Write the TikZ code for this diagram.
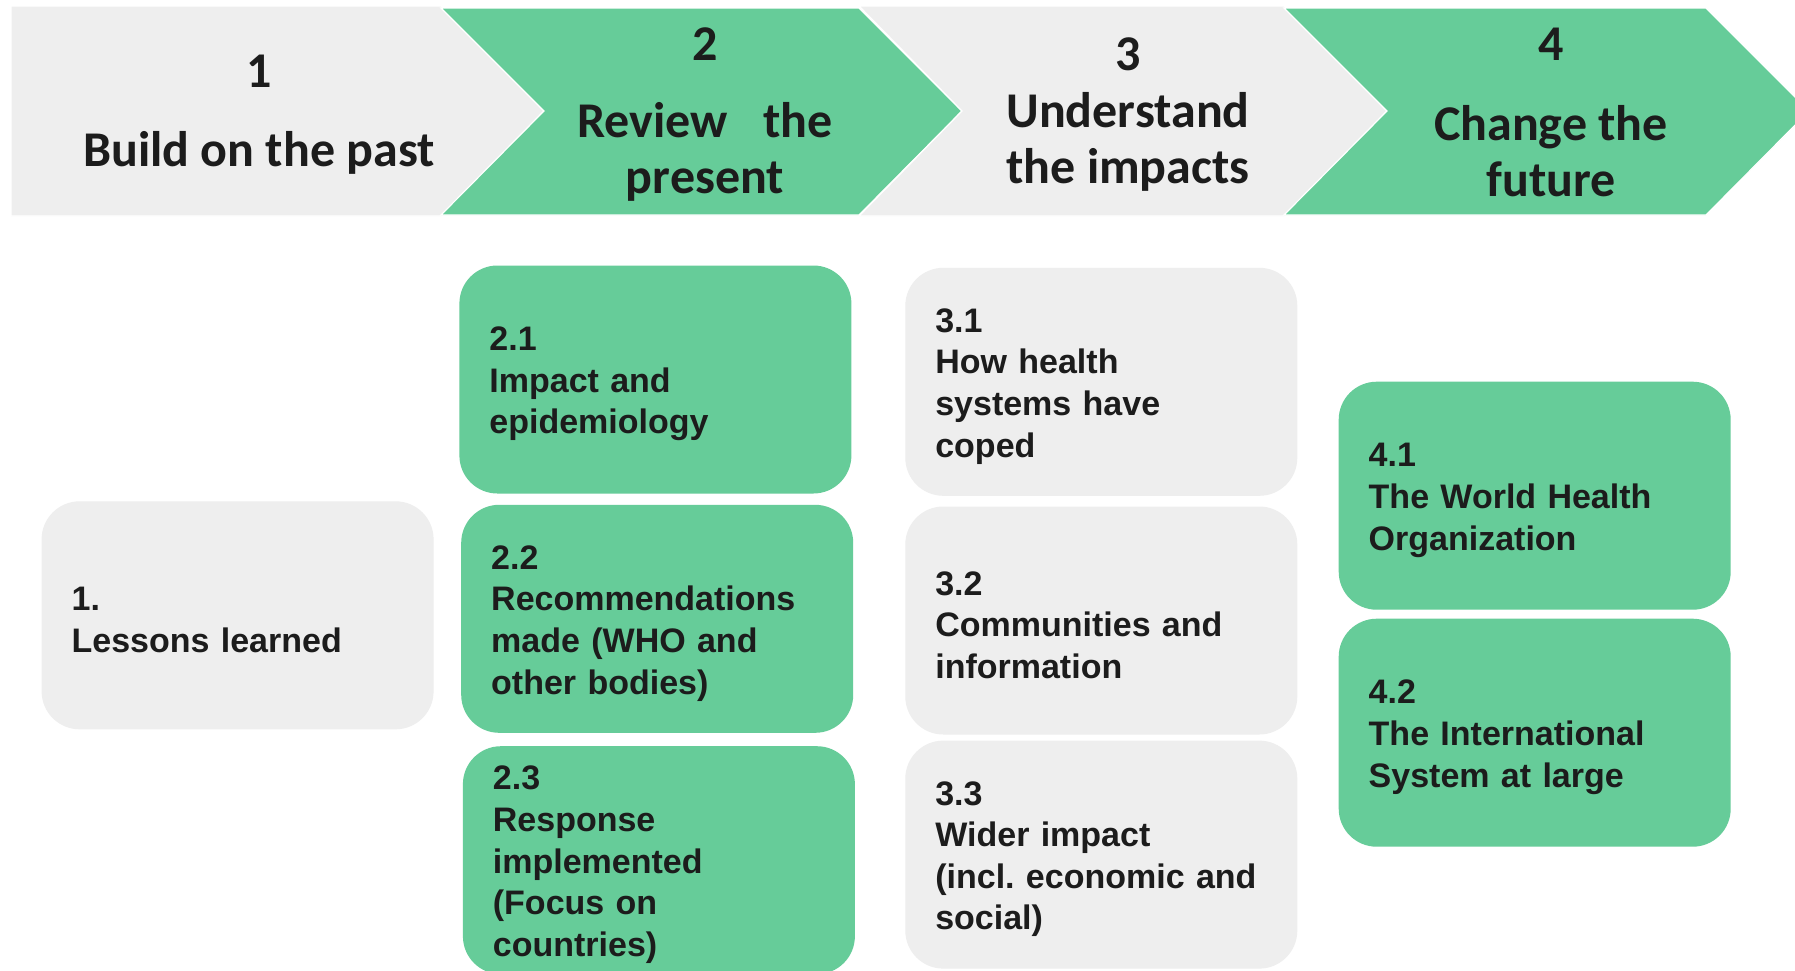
\documentclass[tikz,border=0pt]{standalone}
\usepackage{fontspec}
\setmainfont{Liberation Sans}
\newfontfamily\headfont{Carlito}
\definecolor{grn}{HTML}{66CC99}
\definecolor{lgray}{HTML}{EEEEEE}
\definecolor{ink}{HTML}{1C1C1C}
\frenchspacing
\begin{document}
\begin{tikzpicture}[x=0.5pt,y=-0.5pt,
  chev/.style={draw=white, line width=0.6pt, line join=miter},
  headtxt/.style={font=\headfont\bfseries\fontsize{25}{28}\selectfont, text=ink, align=center, inner sep=0pt},
  box/.style={rounded corners=19pt, minimum height=114pt, minimum width=196pt, inner sep=0pt},
  gbox/.style={box, fill=grn},
  wbox/.style={box, fill=lgray},
  btxt/.style={text width=166pt, inner sep=0pt, align=left, font=\bfseries\fontsize{17}{20.8}\selectfont, text=ink}]
\useasboundingbox (0,0) rectangle (1795,970);
\fill[white] (0,0) rectangle (1795,970);
% header chevrons
\path[chev, fill=lgray] (11,6) -- (441,6) -- (544,111) -- (441,216) -- (11,216) -- cycle;
\path[chev, fill=grn] (441,8) -- (859,8) -- (962,111) -- (859,215) -- (441,215) -- (544,111) -- cycle;
\path[chev, fill=lgray] (859,6) -- (1284,6) -- (1387,111) -- (1284,216) -- (859,216) -- (962,111) -- cycle;
\path[chev, fill=grn] (1284,8) -- (1706,8) -- (1809,111) -- (1706,215) -- (1284,215) -- (1387,111) -- cycle;
% header texts
\node[headtxt] (n1) at (259,71) {1};
\node[headtxt] (t1) at (259,152.5) {Build on the past};
\node[headtxt] (n2) at (705,44) {2};
\node[headtxt] (t2) at (705,151.5) {Review\hspace{18pt}the\\present};
\node[headtxt] (n3) at (1128,54) {3};
\node[headtxt] (t3) at (1128,141.5) {Understand\\the impacts};
\node[headtxt] (n4) at (1551,44) {4};
\node[headtxt] (t4) at (1551,151.5) {Change the\\future};
% boxes
\node[wbox] (b1) at (237.6,615.3) {};
\node[gbox] (b21) at (655.4,379.5) {};
\node[gbox] (b22) at (657.2,618.8) {};
\node[gbox] (b23) at (658.9,860.2) {};
\node[wbox] (b31) at (1101.3,381.8) {};
\node[wbox] (b32) at (1101.3,620.5) {};
\node[wbox] (b33) at (1101.3,854.6) {};
\node[gbox] (b41) at (1534.7,495.7) {};
\node[gbox] (b42) at (1534.7,732.7) {};
% box texts
\node[btxt] (b1t) at ([yshift=-2.3pt]b1.center) {1.\\Lessons learned};
\node[btxt] (b21t) at ([yshift=-2.3pt]b21.center) {2.1\\Impact and\\epidemiology};
\node[btxt] (b22t) at ([yshift=-2.3pt]b22.center) {2.2\\Recommendations\\made (WHO and\\other bodies)};
\node[btxt] (b23t) at ([yshift=-2.3pt]b23.center) {2.3\\Response\\implemented\\(Focus on\\countries)};
\node[btxt] (b31t) at ([yshift=-2.3pt]b31.center) {3.1\\How health\\systems have\\coped};
\node[btxt] (b32t) at ([yshift=-2.3pt]b32.center) {3.2\\Communities and\\information};
\node[btxt] (b33t) at ([yshift=-2.3pt]b33.center) {3.3\\Wider impact\\(incl. economic and\\social)};
\node[btxt] (b41t) at ([yshift=-2.3pt]b41.center) {4.1\\The World Health\\Organization};
\node[btxt] (b42t) at ([yshift=-2.3pt]b42.center) {4.2\\The International\\System at large};
\end{tikzpicture}
\end{document}
